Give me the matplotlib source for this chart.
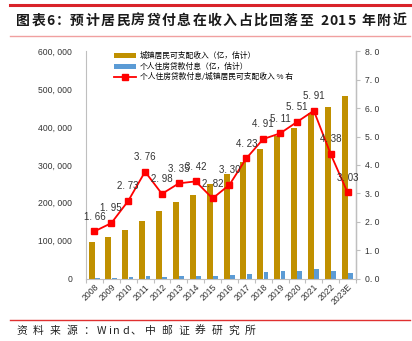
import matplotlib
matplotlib.use("Agg")
import matplotlib.pyplot as plt
import numpy as np
from matplotlib.lines import Line2D
from matplotlib.patches import Patch

plt.rcParams['font.family'] = ['Noto Sans CJK SC', 'DejaVu Sans']

years = ['2008', '2009', '2010', '2011', '2012', '2013', '2014', '2015',
         '2016', '2017', '2018', '2019', '2020', '2021', '2022', '2023E']
income = [97000, 110000, 128000, 153000, 179000, 201000, 220000, 249000,
          275000, 308000, 341000, 376000, 397000, 436000, 454000, 482000]
interest = [1500, 2000, 3300, 5500, 5000, 6500, 7200, 6800,
            8800, 12500, 16000, 18500, 21000, 25000, 19000, 14000]
ratio = [1.66, 1.95, 2.73, 3.76, 2.98, 3.35, 3.42, 2.82,
         3.30, 4.23, 4.91, 5.11, 5.51, 5.91, 4.38, 3.03]

title = '图表6：预计居民房贷付息在收入占比回落至 2015 年附近'
source = '资料来源：Wind、中邮证券研究所'

gold = '#C09000'
blue = '#5B9BD5'
red = '#FF0000'
grey = '#BFBFBF'

W, H = 412, 341
fig = plt.figure(figsize=(W / 100, H / 100), dpi=100)
renderer = fig.canvas.get_renderer()


def spaced_text(x_px, y_px, text, size, adv_cjk, adv_punct, extra_ascii, **kw):
    x = x_px
    for ch in text:
        if ch == ' ':
            x += size * 0.4 * 100 / 72
            continue
        t = fig.text(x / W, 1 - y_px / H, ch, fontsize=size, va='center', ha='left', **kw)
        if ch in '：、':
            x += adv_punct
        elif ord(ch) > 255:
            x += adv_cjk
        else:
            w = t.get_window_extent(renderer=renderer).width
            x += w + extra_ascii


# decorations
fig.add_artist(Line2D([10 / W, 410 / W], [1 - 5 / H, 1 - 5 / H], color='#D9232A', lw=2.2))
fig.add_artist(Line2D([10 / W, 410 / W], [1 - 36 / H, 1 - 36 / H], color='#F0A0A0', lw=1.0))
fig.add_artist(Line2D([10 / W, 410 / W], [1 - 320 / H, 1 - 320 / H], color='#E03030', lw=1.0))
spaced_text(16, 21, title, 10.0, 15.3, 14.2, 0.8, fontweight='bold', color='#1a1a1a')
spaced_text(16, 331, source, 7.8, 16.7, 14, 2.0, color='#222222')

ax = fig.add_axes([86 / W, 1 - 278.5 / H, 270 / W, 227.2 / H])
ax2 = ax.twinx()

x = np.arange(len(years))
ax.bar(x - 0.17, income, width=0.36, color=gold, zorder=2)
ax.bar(x + 0.17, interest, width=0.28, color=blue, zorder=2)

ax.set_xlim(-0.5, len(years) - 0.5)
ax.set_ylim(0, 600000)
ax.set_yticks(np.arange(0, 600001, 100000))
ax.set_yticklabels([f'{v:,}'.replace(',', ', ') for v in range(0, 600001, 100000)],
                   fontsize=6.2, color='#333333', family='Liberation Sans')
ax.tick_params(axis='y', length=0, pad=10)

ax.set_xticks(np.arange(-0.5, len(years), 1), minor=False)
ax.set_xticklabels([''] * (len(years) + 1))
ax.tick_params(axis='x', which='major', length=3, color=grey, direction='out')
ax.set_xticks(x, minor=True)
ax.set_xticklabels(years, minor=True, rotation=45, ha='right', rotation_mode='anchor',
                   fontsize=6.2, color='#333333', family='Liberation Sans')
ax.tick_params(axis='x', which='minor', length=0, pad=3)

for s in ['top']:
    ax.spines[s].set_visible(False)
    ax2.spines[s].set_visible(False)
ax.spines['left'].set_color(grey)
ax.spines['bottom'].set_color(grey)
ax2.spines['right'].set_color(grey)
ax2.spines['left'].set_visible(False)
ax2.spines['bottom'].set_visible(False)

ax2.plot(x, ratio, color=red, lw=1.3, marker='s', markersize=5, zorder=3)
ax2.set_ylim(0, 8)
ax2.set_yticks(np.arange(0, 8.01, 1))
ax2.set_yticklabels([f'{v:.1f}'.replace('.', '. ') for v in np.arange(0, 8.01, 1)],
                    fontsize=6.2, color='#333333', family='Liberation Sans')
ax2.tick_params(axis='y', length=3, color=grey, direction='out')

for xi, r in zip(x, ratio):
    ax2.annotate(f'{r:.2f}'.replace('.', '. '), (xi, r), xytext=(0, 7),
                 textcoords='offset points', ha='center', va='bottom',
                 fontsize=7, color='#333333', family='Liberation Sans')

handles = [Patch(facecolor=gold), Patch(facecolor=blue),
           Line2D([0], [0], color=red, lw=1.3, marker='s', markersize=5)]
labels = ['城镇居民可支配收入（亿，估计）', '个人住房贷款付息（亿，估计）',
          '个人住房贷款付息/城镇居民可支配收入 % 右']
ax2.legend(handles, labels, loc='upper left', bbox_to_anchor=(0.085, 1.02),
           frameon=False, fontsize=5.6, handlelength=2.8, handleheight=0.6,
           labelspacing=0.3, handletextpad=0.5, borderpad=0.2)

fig.savefig('out.png', dpi=100)
